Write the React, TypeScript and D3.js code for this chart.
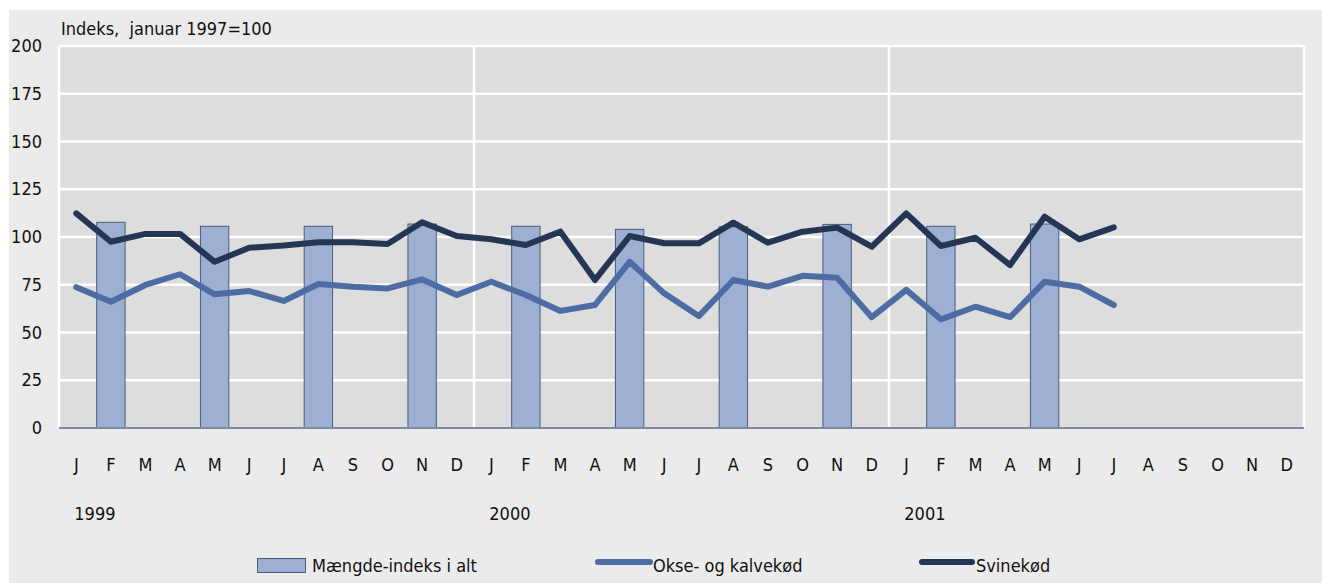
import React, { useRef, useEffect } from 'react';
import * as d3 from 'd3';

const monthLetters = ['J', 'F', 'M', 'A', 'M', 'J', 'J', 'A', 'S', 'O', 'N', 'D'];
const years = ['1999', '2000', '2001'];
const yTicks = [0, 25, 50, 75, 100, 125, 150, 175, 200];

// Mængde-indeks i alt (quarterly bars: F, M, A, N)
const totalIndex: (number | null)[] = [
  null, 107.7, null, null, 105.6, null, null, 105.6, null, null, 106.8, null,
  null, 105.6, null, null, 104.0, null, null, 105.4, null, null, 106.6, null,
  null, 105.6, null, null, 106.8, null, null, null, null, null, null, null,
];

// Okse- og kalvekød
const beef = [
  73.7, 66.1, 74.9, 80.5, 70.0, 71.7, 66.5, 75.4, 74.0, 73.1, 77.8, 69.6,
  76.6, 69.6, 61.3, 64.4, 87.0, 70.5, 58.6, 77.5, 74.0, 79.7, 78.7, 58.0,
  72.3, 56.9, 63.5, 58.0, 76.6, 74.0, 64.4,
];

// Svinekød
const pork = [
  112.4, 97.5, 101.6, 101.6, 87.0, 94.4, 95.5, 97.2, 97.2, 96.3, 107.7, 100.5,
  98.8, 95.8, 102.8, 77.5, 100.5, 96.7, 96.7, 107.5, 97.0, 102.8, 104.9, 94.9,
  112.4, 95.3, 99.6, 85.3, 110.6, 98.8, 105.0,
];

const legendLabels = ['Mængde-indeks i alt', 'Okse- og kalvekød', 'Svinekød'];

const W = 1322;
const H = 583;
const FONT = "'Liberation Sans Narrow', 'DejaVu Sans Condensed', sans-serif";
const BAR_FILL = '#9db0d4';
const BAR_STROKE = '#4a5b7c';
const BEEF = '#4d6ca3';
const PORK = '#253655';

export default function App() {
  const svgRef = useRef<SVGSVGElement>(null);

  useEffect(() => {
    if (!svgRef.current) return;
    const svg = d3.select(svgRef.current);
    svg.selectAll('*').remove();

    const left = 59, right = 1304, top = 46, bottom = 428;

    const keys = d3.range(36).map(i => `${years[Math.floor(i / 12)]}-${i % 12}`);
    const x = d3.scaleBand<string>().domain(keys).range([left, right]).padding(0);
    const y = d3.scaleLinear().domain([0, 200]).range([bottom, top]);
    const cx = (i: number) => (x(keys[i]) as number) + x.bandwidth() / 2;

    // outer background
    svg.append('rect')
      .attr('x', 9).attr('y', 10)
      .attr('width', W - 9).attr('height', H - 10)
      .attr('fill', '#ebebeb');

    // plot background
    svg.append('rect')
      .attr('x', left).attr('y', top)
      .attr('width', right - left).attr('height', bottom - top)
      .attr('fill', '#dddddd');

    // horizontal grid
    svg.selectAll('.hgrid')
      .data(yTicks.filter(t => t > 0))
      .join('line')
      .attr('x1', left).attr('x2', right)
      .attr('y1', d => y(d)).attr('y2', d => y(d))
      .attr('stroke', '#ffffff').attr('stroke-width', 2.5);

    // vertical grid at plot edges and year boundaries
    const vLines = [left, x(keys[12]) as number, x(keys[24]) as number, right];
    svg.selectAll('.vgrid')
      .data(vLines)
      .join('line')
      .attr('x1', d => d).attr('x2', d => d)
      .attr('y1', top).attr('y2', bottom)
      .attr('stroke', '#ffffff').attr('stroke-width', 2.5);

    // bars
    const bw = x.bandwidth() * 0.82;
    svg.selectAll('.bar')
      .data(totalIndex.map((v, i) => ({ v, i })).filter(d => d.v !== null))
      .join('rect')
      .attr('x', d => cx(d.i) - bw / 2)
      .attr('y', d => y(d.v as number))
      .attr('width', bw)
      .attr('height', d => bottom - y(d.v as number))
      .attr('fill', BAR_FILL)
      .attr('stroke', BAR_STROKE)
      .attr('stroke-width', 1);

    // x axis line
    svg.append('line')
      .attr('x1', left).attr('x2', right)
      .attr('y1', bottom).attr('y2', bottom)
      .attr('stroke', '#7d8aa3').attr('stroke-width', 2);

    // lines
    const line = d3.line<number>()
      .x((_, i) => cx(i))
      .y(d => y(d));

    svg.append('path')
      .attr('d', line(beef))
      .attr('fill', 'none')
      .attr('stroke', BEEF)
      .attr('stroke-width', 6)
      .attr('stroke-linejoin', 'round')
      .attr('stroke-linecap', 'round');

    svg.append('path')
      .attr('d', line(pork))
      .attr('fill', 'none')
      .attr('stroke', PORK)
      .attr('stroke-width', 6)
      .attr('stroke-linejoin', 'round')
      .attr('stroke-linecap', 'round');

    // y tick labels
    svg.selectAll('.ytick')
      .data(yTicks)
      .join('text')
      .attr('x', 42)
      .attr('y', d => y(d) + 6)
      .attr('text-anchor', 'end')
      .attr('font-family', FONT)
      .attr('font-size', 18)
      .attr('fill', '#111')
      .text(d => d);

    // axis title
    svg.append('text')
      .attr('x', 61).attr('y', 35)
      .attr('font-family', FONT)
      .attr('font-size', 18)
      .attr('fill', '#111')
      .text('Indeks,  januar 1997=100')
      .attr('xml:space', 'preserve');

    // month labels
    svg.selectAll('.month')
      .data(keys)
      .join('text')
      .attr('x', (_, i) => cx(i))
      .attr('y', 471)
      .attr('text-anchor', 'middle')
      .attr('font-family', FONT)
      .attr('font-size', 18)
      .attr('fill', '#111')
      .text((_, i) => monthLetters[i % 12]);

    // year labels
    svg.selectAll('.year')
      .data(years)
      .join('text')
      .attr('x', (_, i) => cx(i * 12) - 2)
      .attr('y', 520)
      .attr('font-family', FONT)
      .attr('font-size', 18)
      .attr('fill', '#111')
      .text(d => d);

    // legend
    const lg = svg.append('g');
    lg.append('rect')
      .attr('x', 257.5).attr('y', 558.5)
      .attr('width', 48).attr('height', 14)
      .attr('fill', BAR_FILL).attr('stroke', BAR_STROKE).attr('stroke-width', 1);
    lg.append('text')
      .attr('x', 312).attr('y', 572)
      .attr('font-family', FONT).attr('font-size', 18).attr('fill', '#111')
      .text(legendLabels[0]);

    lg.append('line')
      .attr('x1', 598).attr('x2', 650)
      .attr('y1', 562).attr('y2', 562)
      .attr('stroke', BEEF).attr('stroke-width', 6).attr('stroke-linecap', 'round');
    lg.append('text')
      .attr('x', 653).attr('y', 572)
      .attr('font-family', FONT).attr('font-size', 18).attr('fill', '#111')
      .text(legendLabels[1]);

    lg.append('line')
      .attr('x1', 922).attr('x2', 972)
      .attr('y1', 562).attr('y2', 562)
      .attr('stroke', PORK).attr('stroke-width', 6).attr('stroke-linecap', 'round');
    lg.append('text')
      .attr('x', 976).attr('y', 572)
      .attr('font-family', FONT).attr('font-size', 18).attr('fill', '#111')
      .text(legendLabels[2]);
  }, []);

  return (
    <svg
      ref={svgRef}
      width={W}
      height={H}
      style={{ position: 'absolute', left: 0, top: 0, background: '#ffffff' }}
    />
  );
}
